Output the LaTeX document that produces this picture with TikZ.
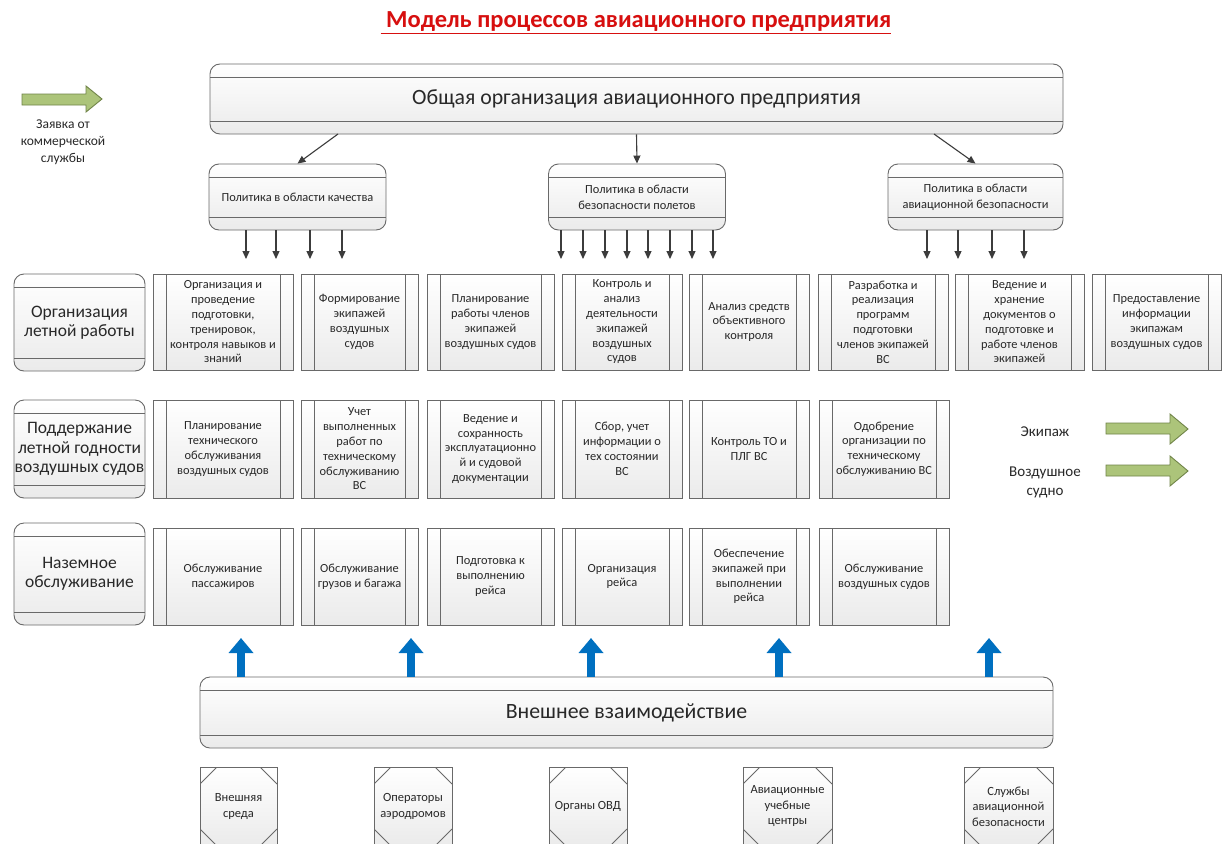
\documentclass[tikz,border=0pt]{standalone}
\usepackage{fontspec}
\setmainfont{Carlito}
\usetikzlibrary{arrows.meta}
\definecolor{edge}{RGB}{105,105,105}
\definecolor{titlered}{RGB}{215,15,15}
\definecolor{arrowblue}{RGB}{0,112,192}
\definecolor{legfill}{RGB}{172,196,122}
\definecolor{legedge}{RGB}{112,132,72}
\definecolor{conn}{RGB}{60,60,60}
\definecolor{txt}{RGB}{40,40,40}
\newcommand\fsz[2]{\fontsize{#1}{#2}\selectfont}
\tikzset{
  boxfill/.style={top color=white, bottom color=black!8, draw=edge, line width=0.9pt, text=txt},
  rbox/.style={boxfill, rounded corners=10pt, inner sep=0pt, align=center,
    path picture={\draw[edge, line width=0.9pt]
      ([yshift=-13pt]path picture bounding box.north west) -- ([yshift=-13pt]path picture bounding box.north east)
      ([yshift=13pt]path picture bounding box.south west) -- ([yshift=13pt]path picture bounding box.south east);}},
  proc/.style={boxfill, inner sep=0pt, align=center, font={\fsz{12.4}{14.8}},
    path picture={\draw[edge, line width=0.9pt]
      ([xshift=13pt]path picture bounding box.north west) -- ([xshift=13pt]path picture bounding box.south west)
      ([xshift=-13pt]path picture bounding box.north east) -- ([xshift=-13pt]path picture bounding box.south east);}},
  card/.style={boxfill, inner sep=0pt, align=center, font={\fsz{12.5}{15.5}},
    path picture={\draw[edge, line width=0.9pt]
      ([yshift=-17pt]path picture bounding box.north west) -- ([xshift=17pt]path picture bounding box.north west)
      ([xshift=-17pt]path picture bounding box.north east) -- ([yshift=-17pt]path picture bounding box.north east)
      ([yshift=17pt]path picture bounding box.south west) -- ([xshift=17pt]path picture bounding box.south west)
      ([xshift=-17pt]path picture bounding box.south east) -- ([yshift=17pt]path picture bounding box.south east);}},
  rowlab/.style={rbox, minimum width=131pt, font={\fsz{17.5}{19.5}}},
  policy/.style={rbox, minimum height=66pt, font={\fsz{12.4}{16}}},
  conarrow/.style={draw=conn, line width=1.1pt, -{Triangle[length=8pt,width=7pt]}},
  uparrow/.style={draw=arrowblue, line width=8pt, -{Triangle[length=15pt,width=24pt]}},
  legarrow/.style={fill=legfill, draw=legedge, line width=0.9pt},
  plain/.style={inner sep=0pt, align=center, text=txt}
}
\begin{document}
\begin{tikzpicture}[x=1pt,y=-1pt]
\useasboundingbox (0,0) rectangle (1225,843);
\clip (0,0) rectangle (1225,843);
\fill[white] (0,0) rectangle (1225,843);

% title
\node[plain, text=titlered, font={\fsz{24.5}{28}\bfseries}] (title) at (636,23) {\underline{\ Модель процессов авиационного предприятия}};

% legend left
\path[legarrow] (22,94) -- (86,94) -- (86,86) -- (102,99) -- (86,112) -- (86,105) -- (22,105) -- cycle;
\node[plain, font={\fsz{13.5}{17}}] (leg1) at (63,142) {Заявка от\\коммерческой\\службы};

% top box
\node[rbox, minimum width=853pt, minimum height=70pt, font={\fsz{21.8}{24}}] (top) at (636.5,99) {Общая организация авиационного предприятия};

% policy boxes
\node[policy, minimum width=177pt] (p1) at (297.5,197) {Политика в области качества};
\node[policy, minimum width=177pt] (p2) at (637,197) {Политика в области\\безопасности полетов};
\node[policy, minimum width=175pt] (p3) at (975.5,197) {Политика в области\\авиационной безопасности};

\coordinate (s1) at (338,134);
\coordinate (s3) at (934,134);
\draw[conarrow] (s1) -- (p1.north);
\draw[conarrow] (top.south) -- (p2.north);
\draw[conarrow] (s3) -- (p3.north);

\foreach \x [count=\i] in {246,276,310,342} {
  \coordinate (qa\i) at (\x,259);
  \draw[conarrow] (qa\i |- p1.south) -- (qa\i);
}
\foreach \x [count=\i] in {561,583,605,627,648,670,692,713} {
  \coordinate (qb\i) at (\x,259);
  \draw[conarrow] (qb\i |- p2.south) -- (qb\i);
}
\foreach \x [count=\i] in {927,958,992,1024} {
  \coordinate (qc\i) at (\x,259);
  \draw[conarrow] (qc\i |- p3.south) -- (qc\i);
}

% row labels
\node[rowlab, minimum height=97pt] (l1) at (79.5,322.5) {Организация\\летной работы};
\node[rowlab, minimum height=98pt] (l2) at (79.5,449) {Поддержание\\летной годности\\воздушных судов};
\node[rowlab, minimum height=102pt] (l3) at (79.5,574) {Наземное\\обслуживание};

% row 1
\node[proc, minimum width=140pt, minimum height=96pt] (r1a) at (223,322) {Организация и\\проведение\\подготовки,\\тренировок,\\контроля навыков и\\знаний};
\node[proc, minimum width=117pt, minimum height=96pt] (r1b) at (359.5,322) {Формирование\\экипажей\\воздушных\\судов};
\node[proc, minimum width=127pt, minimum height=96pt] (r1c) at (490.5,322) {Планирование\\работы членов\\экипажей\\воздушных судов};
\node[proc, minimum width=120pt, minimum height=96pt] (r1d) at (622,322) {Контроль и\\анализ\\деятельности\\экипажей\\воздушных\\судов};
\node[proc, minimum width=120pt, minimum height=96pt] (r1e) at (749,322) {Анализ средств\\объективного\\контроля};
\node[proc, minimum width=130pt, minimum height=96pt] (r1f) at (883,322) {Разработка и\\реализация\\программ\\подготовки\\членов экипажей\\ВС};
\node[proc, minimum width=129pt, minimum height=96pt] (r1g) at (1019.5,322) {Ведение и\\хранение\\документов о\\подготовке и\\работе членов\\экипажей};
\node[proc, minimum width=129pt, minimum height=96pt] (r1h) at (1156.5,322) {Предоставление\\информации\\экипажам\\воздушных судов};

% row 2
\node[proc, minimum width=140pt, minimum height=98pt] (r2a) at (223,449) {Планирование\\технического\\обслуживания\\воздушных судов};
\node[proc, minimum width=117pt, minimum height=98pt] (r2b) at (359.5,449) {Учет\\выполненных\\работ по\\техническому\\обслуживанию\\ВС};
\node[proc, minimum width=127pt, minimum height=98pt] (r2c) at (490.5,449) {Ведение и\\сохранность\\эксплуатационно\\й и судовой\\документации};
\node[proc, minimum width=120pt, minimum height=98pt] (r2d) at (622,449) {Сбор, учет\\информации о\\тех состоянии\\ВС};
\node[proc, minimum width=120pt, minimum height=98pt] (r2e) at (749,449) {Контроль ТО и\\ПЛГ ВС};
\node[proc, minimum width=130pt, minimum height=98pt] (r2f) at (884,449) {Одобрение\\организации по\\техническому\\обслуживанию ВС};

% legend right
\node[plain, font={\fsz{15}{19}}] (ek) at (1045,432) {Экипаж};
\node[plain, font={\fsz{15}{19}}] (vs) at (1045,482) {Воздушное\\судно};
\path[legarrow] (1106,423) -- (1170,423) -- (1170,414) -- (1188,429) -- (1170,444) -- (1170,434) -- (1106,434) -- cycle;
\path[legarrow] (1106,465) -- (1170,465) -- (1170,456) -- (1188,471) -- (1170,486) -- (1170,476) -- (1106,476) -- cycle;

% row 3
\node[proc, minimum width=140pt, minimum height=97pt] (r3a) at (223,576.5) {Обслуживание\\пассажиров};
\node[proc, minimum width=117pt, minimum height=97pt] (r3b) at (359.5,576.5) {Обслуживание\\грузов и багажа};
\node[proc, minimum width=127pt, minimum height=97pt] (r3c) at (490.5,576.5) {Подготовка к\\выполнению\\рейса};
\node[proc, minimum width=120pt, minimum height=97pt] (r3d) at (622,576.5) {Организация\\рейса};
\node[proc, minimum width=120pt, minimum height=97pt] (r3e) at (749,576.5) {Обеспечение\\экипажей при\\выполнении\\рейса};
\node[proc, minimum width=130pt, minimum height=97pt] (r3f) at (884,576.5) {Обслуживание\\воздушных судов};

% bottom box
\node[rbox, minimum width=853pt, minimum height=71pt, font={\fsz{21.8}{24}}] (bot) at (626.5,712.5) {Внешнее взаимодействие};

\foreach \x [count=\i] in {241,411,591,779,989} {
  \coordinate (u\i) at (\x,638);
  \draw[uparrow] (u\i |- bot.north) -- (u\i);
}

% bottom cards
\node[card, minimum width=77pt, minimum height=79pt] (c1) at (238.5,806.5) {Внешняя\\среда};
\node[card, minimum width=78pt, minimum height=79pt] (c2) at (413,806.5) {Операторы\\аэродромов};
\node[card, minimum width=78pt, minimum height=79pt] (c3) at (588,806.5) {Органы ОВД};
\node[card, minimum width=89pt, minimum height=79pt] (c4) at (787.5,806.5) {Авиационные\\учебные\\центры};
\node[card, minimum width=89pt, minimum height=79pt] (c5) at (1008.5,806.5) {Службы\\авиационной\\безопасности};
\end{tikzpicture}
\end{document}
